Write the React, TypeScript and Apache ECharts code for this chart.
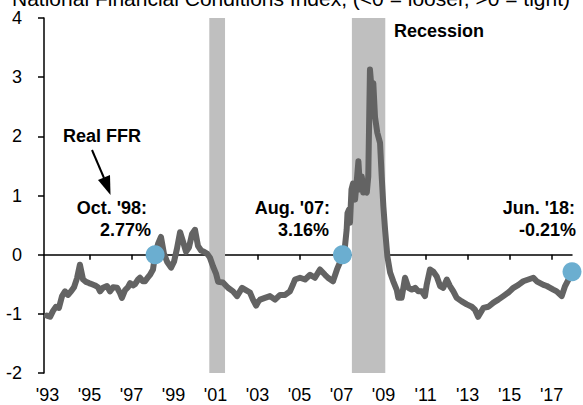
import React, { useEffect, useRef } from "react";
import * as echarts from "echarts";

// Dates as decimal years, index values
const years = [
  1993.44, 1993.59, 1993.73, 1993.87, 1994.01, 1994.16, 1994.3, 1994.44, 1994.59, 1994.73,
  1994.87, 1995.01, 1995.16, 1995.3, 1995.44, 1995.59, 1995.73, 1995.87, 1995.97, 1996.11,
  1996.3, 1996.44, 1996.59, 1996.78, 1996.92, 1997.01, 1997.16, 1997.3, 1997.4, 1997.54,
  1997.63, 1997.78, 1997.87, 1998.01, 1998.11, 1998.25, 1998.35, 1998.49, 1998.59, 1998.73,
  1998.87, 1999.01, 1999.16, 1999.35, 1999.49, 1999.63, 1999.78, 1999.92, 2000.06, 2000.2,
  2000.35, 2000.49, 2000.63, 2000.78, 2000.92, 2001.06, 2001.2, 2001.35, 2001.49, 2001.59,
  2001.82, 2002.06, 2002.3, 2002.49, 2002.63, 2002.73, 2002.87, 2003.11, 2003.25, 2003.4,
  2003.49, 2003.59, 2003.82, 2004.06, 2004.3, 2004.54, 2004.78, 2005.01, 2005.16, 2005.25,
  2005.49, 2005.73, 2005.97, 2006.2, 2006.44, 2006.68, 2006.82, 2007.06, 2007.25, 2007.4,
  2007.51, 2007.63, 2007.71, 2007.75, 2007.82, 2007.87, 2007.94, 2008.01, 2008.11, 2008.18,
  2008.27, 2008.35, 2008.43, 2008.5, 2008.59, 2008.67, 2008.74, 2008.82, 2008.9, 2008.98,
  2009.06, 2009.17, 2009.3, 2009.38, 2009.46, 2009.54, 2009.65, 2009.78, 2009.93, 2010.1,
  2010.17, 2010.33, 2010.49, 2010.65, 2010.81, 2010.97, 2011.12, 2011.29, 2011.44, 2011.52,
  2011.68, 2011.84, 2012.0, 2012.16, 2012.31, 2012.48, 2012.63, 2012.79, 2012.95, 2013.19,
  2013.43, 2013.67, 2013.82, 2013.97, 2014.22, 2014.46, 2014.7, 2014.93, 2015.17, 2015.41,
  2015.65, 2015.89, 2016.12, 2016.36, 2016.6, 2016.76, 2016.92, 2017.08, 2017.24, 2017.4,
  2017.55, 2017.71, 2017.95, 2018.11, 2018.27, 2018.44,
];
const nfci = [
  -1.03, -1.05, -0.95, -0.88, -0.9, -0.7, -0.62, -0.68, -0.62, -0.55,
  -0.4, -0.17, -0.42, -0.46, -0.48, -0.5, -0.52, -0.55, -0.62, -0.56,
  -0.53, -0.62, -0.55, -0.56, -0.65, -0.73, -0.6, -0.55, -0.48, -0.52,
  -0.5, -0.42, -0.39, -0.45, -0.45, -0.38, -0.34, -0.25, 0.0, 0.18,
  0.3, 0.02, -0.12, -0.22, -0.12, 0.1, 0.38, 0.22, 0.05, 0.12,
  0.35, 0.42, 0.15, 0.07, 0.05, 0.02, -0.05, -0.2, -0.32, -0.46,
  -0.47, -0.56, -0.62, -0.7, -0.62, -0.56, -0.59, -0.64, -0.76, -0.86,
  -0.8, -0.76, -0.73, -0.7, -0.76, -0.68, -0.68, -0.62, -0.5, -0.42,
  -0.39, -0.42, -0.34, -0.39, -0.25, -0.34, -0.39, -0.45, -0.25, -0.12,
  0.0, 0.14, 0.42, 0.7, 0.76, 0.54, 1.1, 1.2, 0.93, 1.2,
  1.58, 1.1, 1.32, 1.05, 1.1, 1.05, 1.32, 3.13, 2.79, 2.9,
  2.33, 2.06, 1.89, 1.32, 0.81, 0.42, -0.03, -0.3, -0.45, -0.6,
  -0.73, -0.73, -0.39, -0.56, -0.59, -0.56, -0.62, -0.62, -0.7, -0.51,
  -0.25, -0.29, -0.37, -0.53, -0.56, -0.42, -0.53, -0.62, -0.73, -0.79,
  -0.84, -0.88, -0.93, -1.05, -0.9, -0.88, -0.81, -0.76, -0.7, -0.64,
  -0.56, -0.51, -0.45, -0.42, -0.39, -0.45, -0.48, -0.51, -0.53, -0.56,
  -0.59, -0.62, -0.7, -0.53, -0.42, -0.29,
];

// Highlighted points (real FFR call-outs)
const dotYears = [1998.59, 2007.51, 2018.44];
const dotValues = [0, 0, -0.29];
const dotLabels = [
  ["Oct. '98:", "2.77%"],
  ["Aug. '07:", "3.16%"],
  ["Jun. '18:", "-0.21%"],
];

// Recessions
const recessionStart = [2001.17, 2007.96];
const recessionEnd = [2001.92, 2009.55];

// Axis ticks
const xTickYears = [1993, 1995, 1997, 1999, 2001, 2003, 2005, 2007, 2009, 2011, 2013, 2015, 2017];
const xTickLabels = ["'93", "'95", "'97", "'99", "'01", "'03", "'05", "'07", "'09", "'11", "'13", "'15", "'17"];
const yMin = -2;
const yMax = 4;

const titleText = "National Financial Conditions Index, (<0 = looser, >0 = tight)";

const FONT = '"Liberation Sans", Arial, sans-serif';
const TICK_OFFSET = 0.47;
const X_MIN = 1993.3;
const X_MAX = 2018.44;

export default function App() {
  const ref = useRef<HTMLDivElement>(null);
  useEffect(() => {
    if (!ref.current) return;
    const chart = echarts.init(ref.current, null, { renderer: "svg" });
    const tickVals = xTickYears.map((y) => y + TICK_OFFSET);
    const labelFor = (v: number) => {
      const yr = Math.round(v - TICK_OFFSET);
      const idx = xTickYears.indexOf(yr);
      return idx >= 0 ? xTickLabels[idx] : "";
    };
    const annText = (text: string, x: number, y: number, align: string) => ({
      type: "text",
      x,
      y,
      style: {
        text,
        font: `bold 18px ${FONT}`,
        fill: "#000",
        align,
        verticalAlign: "middle",
      },
      z: 10,
    });
    const labelPos = [
      { rx1: 147, rx2: 151 },
      { rx1: 330, rx2: 329 },
      { rx1: 575, rx2: 576 },
    ];
    const graphics: any[] = [
      {
        type: "text",
        x: 12,
        y: -2,
        style: { text: titleText, font: `21px ${FONT}`, fill: "#000", align: "left", verticalAlign: "middle" },
      },
      annText("Recession", 394, 31, "left"),
      annText("Real FFR", 63, 136, "left"),
      {
        type: "line",
        shape: { x1: 92, y1: 150, x2: 104, y2: 178 },
        style: { stroke: "#000", lineWidth: 2 },
      },
      {
        type: "polygon",
        shape: { points: [[98, 180], [110, 175], [110.5, 195]] },
        style: { fill: "#000" },
      },
    ];
    dotLabels.forEach((l, i) => {
      graphics.push(annText(l[0], labelPos[i].rx1, 208, "right"));
      graphics.push(annText(l[1], labelPos[i].rx2, 230, "right"));
    });

    chart.setOption({
      animation: false,
      grid: { left: 44, right: 11, top: 18, bottom: 32, containLabel: false },
      xAxis: [
        {
          type: "value",
          min: X_MIN,
          max: X_MAX,
          position: "bottom",
          axisLine: { show: false, onZero: false },
          axisTick: { show: false },
          splitLine: { show: false },
          axisLabel: {
            show: true,
            customValues: tickVals,
            formatter: (v: number) => labelFor(v),
            fontFamily: FONT,
            fontSize: 18,
            color: "#000",
            margin: 13,
            showMinLabel: true,
            showMaxLabel: true,
          },
        },
        {
          type: "value",
          min: X_MIN,
          max: X_MAX,
          position: "top",
          axisLine: { show: true, onZero: true, lineStyle: { color: "#000", width: 1.5 } },
          axisTick: {
            show: true,
            inside: true,
            customValues: tickVals.slice(1),
            length: 5,
            lineStyle: { color: "#000", width: 1.5 },
          },
          axisLabel: { show: false },
          splitLine: { show: false },
        },
      ],
      yAxis: {
        type: "value",
        min: yMin,
        max: yMax,
        interval: 1,
        axisLine: { show: true, onZero: false, lineStyle: { color: "#000", width: 1.5 } },
        axisTick: { show: true, length: 6, lineStyle: { color: "#000", width: 1.5 } },
        splitLine: { show: false },
        axisLabel: { fontFamily: FONT, fontSize: 18, color: "#000", margin: 22 },
      },
      graphic: graphics,
      series: [
        {
          type: "line",
          xAxisIndex: 1,
          data: years.map((y, i) => [y, nfci[i]]),
          showSymbol: false,
          lineStyle: { color: "#636363", width: 6, join: "round", cap: "round" },
          z: 3,
          markArea: {
            silent: true,
            itemStyle: { color: "#BFBFBF" },
            data: recessionStart.map((s, i) => [{ xAxis: s }, { xAxis: recessionEnd[i] }]),
          },
        },
        {
          type: "scatter",
          xAxisIndex: 1,
          data: dotYears.map((y, i) => [y, dotValues[i]]),
          symbolSize: 19,
          itemStyle: { color: "#6BAED0", opacity: 1 },
          z: 4,
        },
      ],
    });
    return () => chart.dispose();
  }, []);
  return (
    <div
      ref={ref}
      style={{ position: "fixed", left: 0, top: 0, width: 583, height: 405, background: "#fff" }}
    />
  );
}
